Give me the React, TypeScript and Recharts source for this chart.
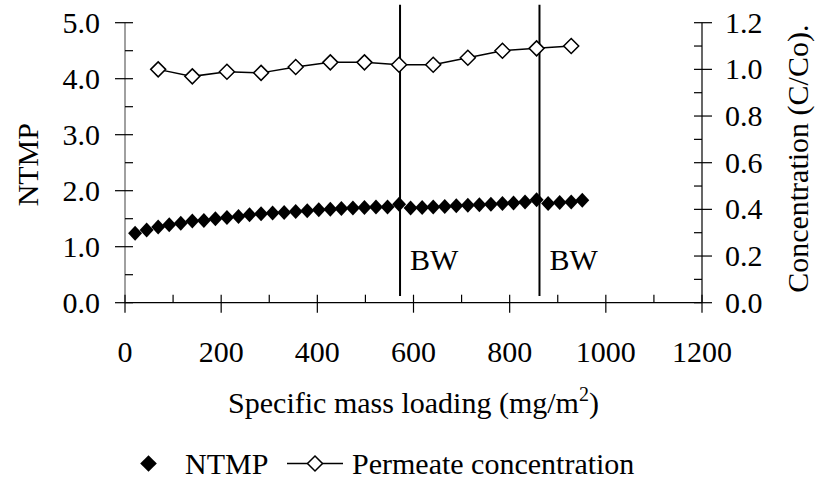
import React from "react";
import { ComposedChart, Line, XAxis, YAxis, ReferenceLine, Legend } from "recharts";

// NTMP readings (left axis)
const ntmpX = [21, 45, 69, 92, 116, 140, 164, 188, 212, 236, 259, 283, 307, 331, 355, 379, 403, 427, 450, 474, 498, 522, 546, 570, 594, 618, 641, 665, 689, 713, 737, 761, 785, 808, 832, 856, 880, 904, 928, 951];
const ntmpY = [1.24, 1.3, 1.35, 1.39, 1.42, 1.46, 1.47, 1.5, 1.52, 1.54, 1.57, 1.59, 1.6, 1.61, 1.63, 1.64, 1.66, 1.67, 1.68, 1.69, 1.7, 1.71, 1.71, 1.76, 1.69, 1.7, 1.71, 1.72, 1.73, 1.74, 1.75, 1.76, 1.77, 1.78, 1.8, 1.84, 1.77, 1.79, 1.8, 1.83];

// Permeate concentration C/Co (right axis)
const permX = [69, 140, 212, 283, 355, 427, 498, 570, 641, 713, 785, 856, 928];
const permC = [1.0, 0.97, 0.99, 0.985, 1.01, 1.03, 1.03, 1.02, 1.02, 1.05, 1.08, 1.09, 1.1];

// backwash events
const bwX = [572, 862];

const xTicks = [0, 100, 200, 300, 400, 500, 600, 700, 800, 900, 1000, 1100, 1200];
const leftTicks = [0, 0.5, 1, 1.5, 2, 2.5, 3, 3.5, 4, 4.5, 5];
const rightTicks = [0, 0.1, 0.2, 0.3, 0.4, 0.5, 0.6, 0.7, 0.8, 0.9, 1.0, 1.1, 1.2];

const ntmpData = ntmpX.map((x, i) => ({ x, y: ntmpY[i] }));
const permData = permX.map((x, i) => ({ x, c: permC[i] }));

const FONT = "'Liberation Serif', 'Times New Roman', serif";
const FS = 30;

const diamond = (cx: number, cy: number, w: number, h: number) =>
  `M${cx},${cy - h}L${cx + w},${cy}L${cx},${cy + h}L${cx - w},${cy}Z`;

const FilledDot = (p: any) => {
  if (p.cx == null || p.cy == null) return null;
  return <path key={p.index} d={diamond(p.cx, p.cy, 7, 7.5)} fill="#000" />;
};

const OpenDot = (p: any) => {
  if (p.cx == null || p.cy == null) return null;
  return <path key={p.index} d={diamond(p.cx, p.cy, 7.5, 7.5)} fill="#fff" stroke="#000" strokeWidth={1.5} />;
};

const XTick = (p: any) => {
  const { x, y, payload } = p;
  const v = payload.value;
  const major = v % 200 === 0;
  return (
    <g>
      <line x1={x} x2={x} y1={y - 8} y2={major ? y + 10 : y} stroke="#000" strokeWidth={1.2} />
      {major && (
        <text x={x} y={y + 59} textAnchor="middle" fontSize={FS} fontFamily={FONT} fill="#000">
          {v}
        </text>
      )}
    </g>
  );
};

const LeftTick = (p: any) => {
  const { x, y, payload } = p;
  const v = payload.value;
  const major = Number.isInteger(v);
  return (
    <g>
      <line x1={major ? x - 10 : x} x2={x + 8} y1={y} y2={y} stroke="#000" strokeWidth={1.2} />
      {major && (
        <text x={x - 25} y={y + 10} textAnchor="end" fontSize={FS} fontFamily={FONT} fill="#000">
          {v.toFixed(1)}
        </text>
      )}
    </g>
  );
};

const RightTick = (p: any) => {
  const { x, y, payload } = p;
  const v = payload.value;
  const major = Math.round(v * 10) % 2 === 0;
  return (
    <g>
      <line x1={x - 8} x2={major ? x + 10 : x} y1={y} y2={y} stroke="#000" strokeWidth={1.2} />
      {major && (
        <text x={x + 23} y={y + 10} textAnchor="start" fontSize={FS} fontFamily={FONT} fill="#000">
          {v.toFixed(1)}
        </text>
      )}
    </g>
  );
};

const BWLabel = (p: any) => {
  const vb = p.viewBox;
  return (
    <text x={vb.x + 10} y={vb.y + vb.height - 26} fontSize={FS} fontFamily={FONT} fill="#000">
      BW
    </text>
  );
};

const LeftTitle = (p: any) => {
  const vb = p.viewBox;
  const cx = vb.x + 28;
  const cy = vb.y + vb.height / 2 + 2;
  return (
    <text x={cx} y={cy} transform={`rotate(-90 ${cx} ${cy})`} textAnchor="middle" dominantBaseline="central" fontSize={FS} fontFamily={FONT} fill="#000">
      NTMP
    </text>
  );
};

const RightTitle = (p: any) => {
  const vb = p.viewBox;
  const cx = vb.x + 96;
  const cy = vb.y + vb.height / 2 - 4;
  return (
    <text x={cx} y={cy} transform={`rotate(-90 ${cx} ${cy})`} textAnchor="middle" dominantBaseline="central" fontSize={FS} fontFamily={FONT} fill="#000">
      Concentration (C/Co).
    </text>
  );
};

const XTitle = (p: any) => {
  const vb = p.viewBox;
  return (
    <text x={vb.x + vb.width / 2} y={vb.y + 110} textAnchor="middle" fontSize={FS} fontFamily={FONT} fill="#000">
      Specific mass loading (mg/m
      <tspan dy={-12} fontSize={20}>2</tspan>
      <tspan dy={12}>)</tspan>
    </text>
  );
};

const renderLegend = () => (
  <svg width={815} height={44} style={{ display: "block" }}>
    <path d={diamond(148.5, 23.5, 8.3, 8.3)} fill="#000" />
    <text x={185} y={33.5} fontSize={FS} fontFamily={FONT} fill="#000">NTMP</text>
    <line x1={287} x2={343} y1={23.5} y2={23.5} stroke="#000" strokeWidth={1.5} />
    <path d={diamond(315, 23.5, 7.5, 7.5)} fill="#fff" stroke="#000" strokeWidth={1.5} />
    <text x={352} y={33.5} fontSize={FS} fontFamily={FONT} fill="#000">Permeate concentration</text>
  </svg>
);

export default function App() {
  return (
    <div style={{ position: "absolute", left: 0, top: 0, width: 815, height: 482, background: "#fff" }}>
      <ComposedChart width={815} height={482} margin={{ top: 22.7, right: 0, bottom: 79.3, left: 0 }}>
        <XAxis
          dataKey="x"
          type="number"
          domain={[0, 1200]}
          ticks={xTicks}
          interval={0}
          height={100}
          tickSize={0}
          tickMargin={0}
          tickLine={false}
          tick={<XTick />}
          axisLine={{ stroke: "#000", strokeWidth: 1.2 }}
          allowDataOverflow
          label={XTitle}
        />
        <YAxis
          yAxisId="l"
          orientation="left"
          type="number"
          domain={[0, 5]}
          ticks={leftTicks}
          interval={0}
          width={125}
          tickSize={0}
          tickMargin={0}
          tickLine={false}
          tick={<LeftTick />}
          axisLine={{ stroke: "#808080", strokeWidth: 1.5 }}
          allowDataOverflow
          label={LeftTitle}
        />
        <YAxis
          yAxisId="r"
          orientation="right"
          type="number"
          domain={[0, 1.2]}
          ticks={rightTicks}
          interval={0}
          width={113}
          tickSize={0}
          tickMargin={0}
          tickLine={false}
          tick={<RightTick />}
          axisLine={{ stroke: "#000", strokeWidth: 1.2 }}
          allowDataOverflow
          label={RightTitle}
        />
        {bwX.map((bx) => (
          <ReferenceLine
            key={bx}
            yAxisId="l"
            segment={[
              { x: bx, y: 0.12 },
              { x: bx, y: 5.32 },
            ]}
            stroke="#000"
            strokeWidth={2}
            ifOverflow="visible"
            label={BWLabel}
          />
        ))}
        <Line
          data={ntmpData}
          yAxisId="l"
          dataKey="y"
          name="NTMP"
          stroke="none"
          dot={FilledDot}
          activeDot={false}
          isAnimationActive={false}
        />
        <Line
          data={permData}
          yAxisId="r"
          dataKey="c"
          name="Permeate concentration"
          type="linear"
          stroke="#000"
          strokeWidth={1.5}
          dot={OpenDot}
          activeDot={false}
          isAnimationActive={false}
        />
        <Legend
          verticalAlign="middle"
          content={renderLegend}
          wrapperStyle={{ top: 440, left: 0, width: 815, height: 44 }}
        />
      </ComposedChart>
    </div>
  );
}
